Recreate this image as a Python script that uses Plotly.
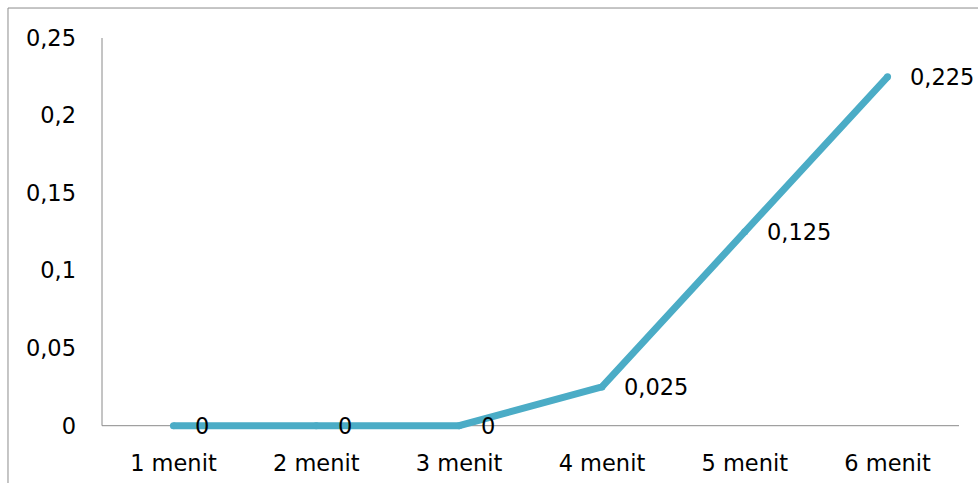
import plotly.graph_objects as go

categories = ["1 menit", "2 menit", "3 menit", "4 menit", "5 menit", "6 menit"]
values = [0, 0, 0, 0.025, 0.125, 0.225]
value_labels = ["0", "0", "0", "0,025", "0,125", "0,225"]
y_ticks = [0, 0.05, 0.1, 0.15, 0.2, 0.25]
y_tick_labels = ["0", "0,05", "0,1", "0,15", "0,2", "0,25"]

LINE_COLOR = "#4BACC6"
AXIS_COLOR = "#8a8a8a"
FONT = dict(family="DejaVu Sans", size=22.5, color="#000000")
Y_MIN = -0.006  # small pad below zero so the thick line is not clipped

fig = go.Figure()
fig.add_trace(go.Scatter(
    x=categories, y=values, mode="lines+markers",
    line=dict(color=LINE_COLOR, width=7),
    marker=dict(color=LINE_COLOR, size=7, line=dict(width=0)),
    cliponaxis=False, showlegend=False, hoverinfo="skip",
))

for cat, val, lab in zip(categories, values, value_labels):
    fig.add_annotation(
        x=cat, y=val, text=lab, showarrow=False,
        xanchor="left", yanchor="middle", xshift=20, yshift=0,
        font=FONT,
    )

# axis lines drawn at the data origin
fig.add_shape(type="line", xref="paper", yref="y", x0=0, x1=1, y0=0, y1=0,
              line=dict(color=AXIS_COLOR, width=1), layer="below")
fig.add_shape(type="line", xref="paper", yref="y", x0=0, x1=0, y0=0, y1=0.25,
              line=dict(color=AXIS_COLOR, width=1), layer="below")

# outer chart frame
fig.add_shape(
    type="rect", xref="paper", yref="paper",
    x0=-0.1097, x1=1.2, y0=-0.3, y1=1.0755,
    line=dict(color="#8c8c8c", width=1), layer="below",
)

fig.update_layout(
    width=978, height=483,
    margin=dict(l=102, r=19, t=38, b=48, autoexpand=False),
    paper_bgcolor="white", plot_bgcolor="white",
    font=FONT,
    xaxis=dict(
        type="category", showgrid=False, zeroline=False, showline=False,
        ticks="", ticklabelstandoff=12, automargin=False,
        range=[-0.5, 5.5], tickfont=FONT,
    ),
    yaxis=dict(
        range=[Y_MIN, 0.25], tickvals=y_ticks, ticktext=y_tick_labels,
        showgrid=False, zeroline=False, showline=False,
        ticks="", ticklabelstandoff=25, automargin=False,
        tickfont=FONT,
    ),
)

fig.write_html("out.html")
